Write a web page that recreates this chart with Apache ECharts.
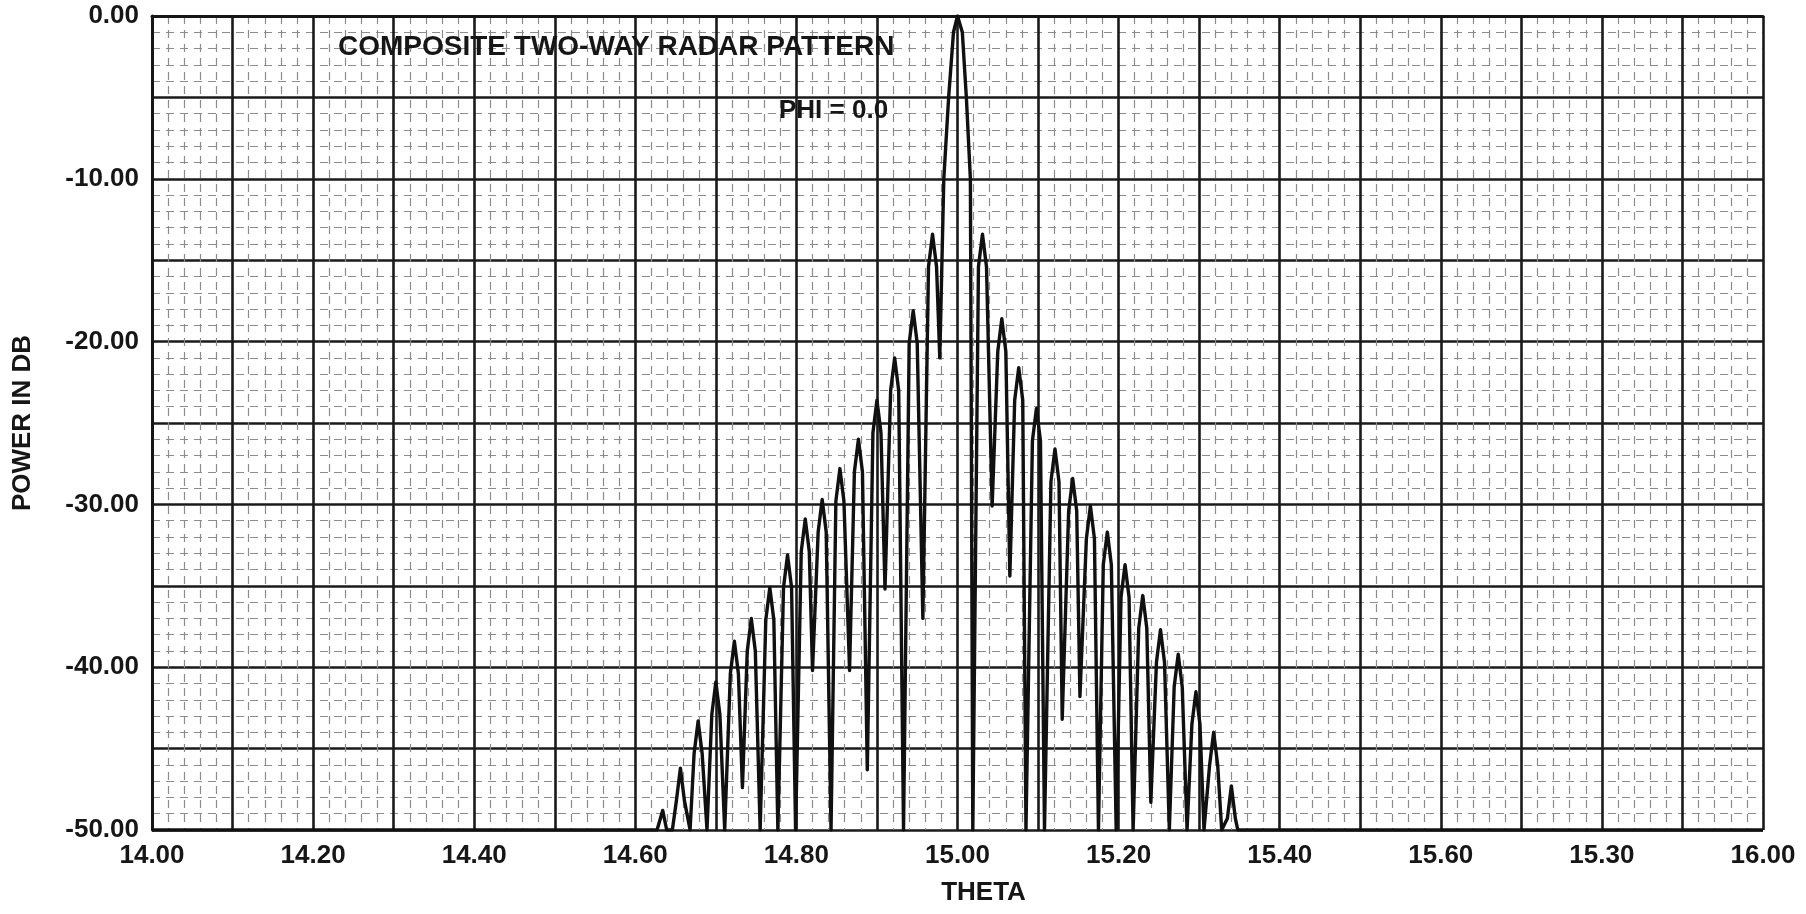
<!DOCTYPE html>
<html>
<head>
<meta charset="utf-8">
<script src="https://cdn.jsdelivr.net/npm/echarts@6/dist/echarts.min.js"></script>
<style>
  html, body { margin: 0; padding: 0; background: #ffffff; }
  #chart { width: 1806px; height: 914px; }
</style>
</head>
<body>
<div id="chart"></div>
<script>
// ---- Data ----
const titleText = 'COMPOSITE TWO-WAY RADAR PATTERN';
const subtitleText = 'PHI = 0.0';
const xAxisTitle = 'THETA';
const yAxisTitle = 'POWER IN DB';

// tick labels as printed on the original (note the "15.30" misprint at 15.80)
const xTickLabels = ['14.00', '14.20', '14.40', '14.60', '14.80', '15.00', '15.20', '15.40', '15.60', '15.30', '16.00'];
const yTickLabels = ['0.00', '-10.00', '-20.00', '-30.00', '-40.00', '-50.00'];

// trace: theta (deg) and power (dB) - for each lobe: shoulder, peak, shoulder, null
const thetaValues = [
  14.000, 14.627,
  14.629, 14.634, 14.639, 14.646,
  14.651, 14.656, 14.661, 14.668,
  14.673, 14.678, 14.683, 14.689,
  14.695, 14.700, 14.705, 14.711,
  14.718, 14.723, 14.728, 14.733,
  14.739, 14.744, 14.749, 14.755,
  14.762, 14.767, 14.772, 14.777,
  14.784, 14.789, 14.794, 14.799,
  14.806, 14.811, 14.816, 14.820,
  14.827, 14.832, 14.837, 14.843,
  14.849, 14.854, 14.859, 14.866,
  14.872, 14.877, 14.882, 14.888,
  14.895, 14.900, 14.905, 14.910,
  14.917, 14.922, 14.927, 14.933,
  14.940, 14.945, 14.950, 14.957,
  14.964, 14.969, 14.974, 14.978,
  14.983, 14.989, 14.995, 15.000, 15.006, 15.011, 15.016, 15.019,
  15.026, 15.031, 15.036, 15.043,
  15.050, 15.055, 15.060, 15.065,
  15.071, 15.076, 15.081, 15.085,
  15.093, 15.098, 15.103, 15.108,
  15.116, 15.121, 15.126, 15.130,
  15.138, 15.143, 15.148, 15.152,
  15.160, 15.165, 15.170, 15.175,
  15.181, 15.186, 15.191, 15.197,
  15.203, 15.208, 15.213, 15.218,
  15.225, 15.230, 15.235, 15.240,
  15.247, 15.252, 15.257, 15.263,
  15.269, 15.274, 15.279, 15.285,
  15.291, 15.296, 15.301, 15.306,
  15.313, 15.318, 15.323, 15.328,
  15.335, 15.340, 15.345, 15.348,
  16.000
];
const powerDb = [
  -50, -50,
  -50, -48.8, -50, -50,
  -48.2, -46.2, -48.2, -50,
  -45.3, -43.3, -45.3, -50,
  -42.9, -40.9, -42.9, -50,
  -40.4, -38.4, -40.4, -47.4,
  -39.0, -37.0, -39.0, -50,
  -37.1, -35.1, -37.1, -50,
  -35.1, -33.1, -35.1, -50,
  -32.9, -30.9, -32.9, -40.2,
  -31.7, -29.7, -31.7, -50,
  -29.8, -27.8, -29.8, -40.2,
  -28.0, -26.0, -28.0, -46.3,
  -25.6, -23.6, -25.6, -35.2,
  -23.0, -21.0, -23.0, -50,
  -20.1, -18.1, -20.1, -37.0,
  -15.4, -13.4, -15.4, -21.0,
  -10, -5, -1, 0, -1, -5, -10, -50,
  -15.4, -13.4, -15.4, -30.1,
  -20.6, -18.6, -20.6, -34.4,
  -23.6, -21.6, -23.6, -50,
  -26.1, -24.1, -26.1, -50,
  -28.6, -26.6, -28.6, -43.2,
  -30.4, -28.4, -30.4, -41.8,
  -32.1, -30.1, -32.1, -50,
  -33.7, -31.7, -33.7, -50,
  -35.7, -33.7, -35.7, -50,
  -37.6, -35.6, -37.6, -48.3,
  -39.7, -37.7, -39.7, -50,
  -41.2, -39.2, -41.2, -50,
  -43.5, -41.5, -43.5, -50,
  -46.0, -44.0, -46.0, -50,
  -49.3, -47.3, -49.3, -50,
  -50
];

// ---- Chart ----
const FONT = "'Liberation Sans', Arial, sans-serif";
const INK = '#161616';
const chart = echarts.init(document.getElementById('chart'), null, { renderer: 'canvas' });

const traceData = thetaValues.map((t, i) => [t, powerDb[i]]);

const option = {
  backgroundColor: '#ffffff',
  animation: false,
  title: [
    {
      text: titleText, left: 338, top: 33, padding: 0,
      textStyle: { fontFamily: FONT, fontSize: 28, fontWeight: 'bold', color: INK }
    },
    {
      text: subtitleText, left: 779, top: 98, padding: 0,
      textStyle: { fontFamily: FONT, fontSize: 26, fontWeight: 'bold', color: INK }
    }
  ],
  grid: { left: 152, right: 43, top: 16, bottom: 84, containLabel: false },
  xAxis: {
    type: 'value',
    min: 14, max: 16, interval: 0.1,
    name: xAxisTitle, nameLocation: 'middle', nameGap: 50,
    nameTextStyle: { fontFamily: FONT, fontSize: 26, fontWeight: 'bold', color: INK, padding: [0, 0, 0, 52] },
    axisLine: { show: true, lineStyle: { color: INK, width: 3 } },
    axisTick: { show: false },
    axisLabel: {
      margin: 13, fontFamily: FONT, fontSize: 26, fontWeight: 'bold', color: INK, hideOverlap: false,
      showMinLabel: true, showMaxLabel: true,
      formatter: function (v) {
        const k = Math.round((v - 14) * 10);
        return (k % 2 === 0) ? xTickLabels[k / 2] : '';
      }
    },
    splitLine: { show: true, lineStyle: { color: '#1a1a1a', width: 2.6 } },
    minorTick: { show: false, splitNumber: 5 },
    minorSplitLine: { show: true, lineStyle: { color: '#8c8c8c', width: 1.2, type: [8, 6] } }
  },
  yAxis: {
    type: 'value',
    min: -50, max: 0, interval: 5,
    name: yAxisTitle, nameLocation: 'middle', nameGap: 116, nameRotate: 90,
    nameTextStyle: { fontFamily: FONT, fontSize: 26, fontWeight: 'bold', color: INK },
    axisLine: { show: true, lineStyle: { color: INK, width: 3 } },
    axisTick: { show: false },
    axisLabel: {
      margin: 13, fontFamily: FONT, fontSize: 26, fontWeight: 'bold', color: INK,
      showMinLabel: true, showMaxLabel: true,
      formatter: function (v) {
        const k = Math.round(-v);
        return (k % 10 === 0) ? yTickLabels[k / 10] : '';
      }
    },
    splitLine: { show: true, lineStyle: { color: '#1a1a1a', width: 2.6 } },
    minorTick: { show: false, splitNumber: 5 },
    minorSplitLine: { show: true, lineStyle: { color: '#8c8c8c', width: 1.2, type: [8, 6] } }
  },
  series: [
    {
      type: 'line',
      data: traceData,
      symbol: 'none',
      smooth: false,
      clip: true,
      lineStyle: { color: '#101010', width: 3.4, join: 'round' },
      z: 5
    }
  ]
};

chart.setOption(option);
</script>
</body>
</html>
